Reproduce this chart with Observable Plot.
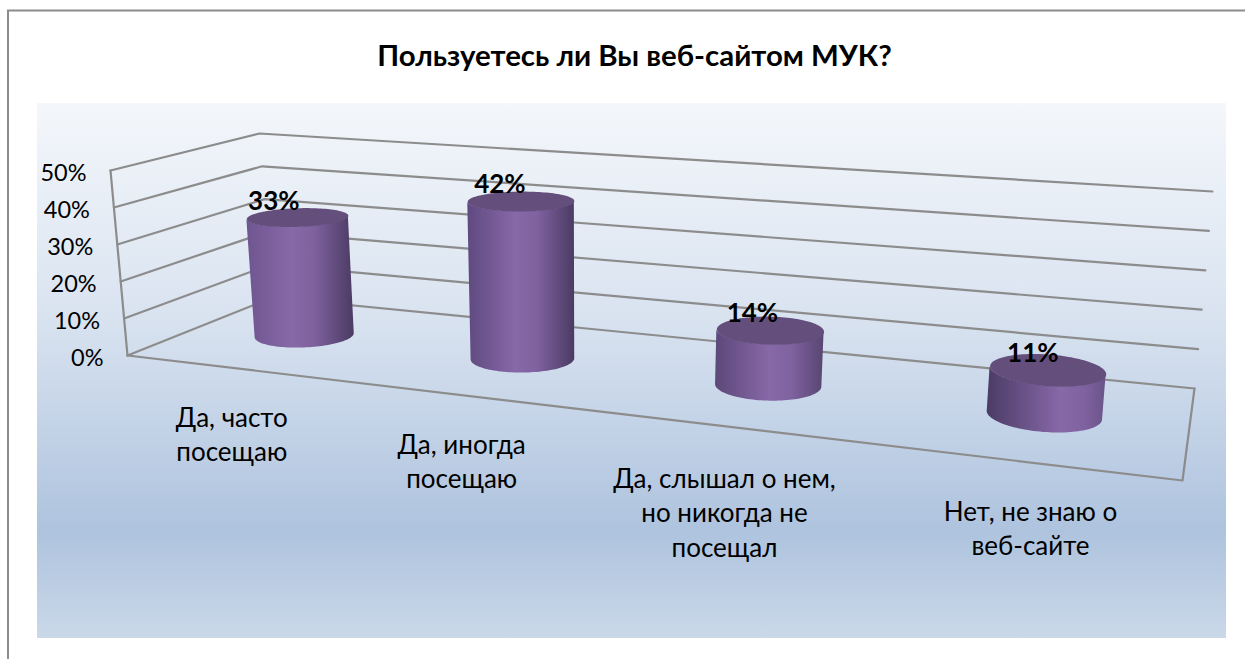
<!DOCTYPE html>
<html><head><meta charset="utf-8">
<style>html,body{margin:0;padding:0;background:#fff}svg{display:block}</style>
<script src="https://cdn.jsdelivr.net/npm/d3@7"></script>
<script src="https://cdn.jsdelivr.net/npm/@observablehq/plot@0.6"></script>
</head><body><div id="chart"></div>
<script>
const title = "Пользуетесь ли Вы веб-сайтом МУК?";
const categories = ["Да, часто\nпосещаю", "Да, иногда\nпосещаю", "Да, слышал о нем,\nно никогда не\nпосещал", "Нет, не знаю о\nвеб-сайте"];
const values = [33, 42, 14, 11];
const valueTicks = [0, 10, 20, 30, 40, 50];

// 3D box as seen on the page: floor corners [front-left, front-right, back-right, back-left]
const floorQuad = [[127,355],[1182,480],[1194,388],[272,297]];
// screen offset of the top of the box (value = max) above each floor corner
const riseQuad = [[-17,-185],[20,-222],[18,-197],[-13,-164]];
const maxValue = 50, nCat = categories.length;
function homography(q){
  const [[x0,y0],[x1,y1],[x2,y2],[x3,y3]] = q;
  const dx1=x1-x2, dx2=x3-x2, sx=x0-x1+x2-x3, dy1=y1-y2, dy2=y3-y2, sy=y0-y1+y2-y3;
  const den=dx1*dy2-dx2*dy1, g=(sx*dy2-dx2*sy)/den, h=(dx1*sy-sx*dy1)/den;
  const a=x1-x0+g*x1, b=x3-x0+h*x3, d=y1-y0+g*y1, e=y3-y0+h*y3;
  return (s,t)=>{const w=g*s+h*t+1; return [(a*s+b*t+x0)/w,(d*s+e*t+y0)/w];};
}
const hFloor = homography(floorQuad);
const bil = (s,t,k) => {
  const [fl,fr,br,bl]=riseQuad;
  const f=fl[k]+(fr[k]-fl[k])*s, b=bl[k]+(br[k]-bl[k])*s;
  return f+(b-f)*t;
};
// u: category axis 0..n, depth: 0 front .. 1 back, v: value
function project(u, depth, v){
  const s=u/nCat, p=hFloor(s,depth), k=v/maxValue;
  return [p[0]+bil(s,depth,0)*k, p[1]+bil(s,depth,1)*k];
}
const segments = [];
const addSeg = (id, pts) => pts.forEach(p => { const [x,y]=project(...p); segments.push({id,x,y}); });
valueTicks.forEach(v => addSeg("g"+v, [[0,0,v],[0,1,v],[nCat,1,v]]));
addSeg("floor", [[nCat,1,0],[nCat,0,0],[0,0,0]]);
addSeg("axis", [[0,0,0],[0,0,maxValue]]);

const radiusD = 0.19, steps = 120;
const radiusU = [0.207, 0.207, 0.198, 0.196];   // cylinder half-width along the category axis
const centerU = [0.5, 0.505, 0.515, 0.52];      // cylinder centre within its category slot
function ring(i, v){
  return d3.range(steps).map(j=>{
    const t=j/steps*2*Math.PI;
    const [x,y]=project(i+centerU[i]+radiusU[i]*Math.cos(t),0.5+radiusD*Math.sin(t),v);
    return {t,x,y};
  });
}
function bodyOf(i, v){
  const lo=ring(i,0), hi=ring(i,v);
  let a=d3.minIndex(lo,d=>d.x), b=d3.maxIndex(lo,d=>d.x);
  const forward=[]; for(let j=a;;j=(j+1)%steps){forward.push(j); if(j===b)break;}
  const backward=[]; for(let j=a;;j=(j-1+steps)%steps){backward.push(j); if(j===b)break;}
  const path=d3.mean(forward,j=>lo[j].y)>d3.mean(backward,j=>lo[j].y)?forward:backward;
  return path.map(j=>({x1:hi[j].x,y1:hi[j].y,x2:lo[j].x,y2:lo[j].y}));
}
const highlight=[0.42,0.45,0.5,0.62], edgeL=["#6f5690","#5f4a80","#5c4879","#4b3b65"], edgeR=["#4b3b63","#4b3b63","#584672","#6a5389"];
const defs = () => {
  const g=document.createElementNS("http://www.w3.org/2000/svg","g");
  g.innerHTML=`<defs>
  <linearGradient id="panel" x1="0" y1="0" x2="0" y2="1">
    <stop offset="0" stop-color="#f4f7fb"/><stop offset="0.4" stop-color="#d9e3f0"/>
    <stop offset="0.8" stop-color="#aec3de"/><stop offset="1" stop-color="#cad8e9"/>
  </linearGradient>
  ${highlight.map((h,i)=>`<linearGradient id="cyl${i}" x1="0" y1="0" x2="1" y2="0">
    <stop offset="0" stop-color="${edgeL[i]}"/><stop offset="${h}" stop-color="#8768a8"/>
    <stop offset="${Math.min(h+0.2,0.92)}" stop-color="#7f62a0"/><stop offset="1" stop-color="${edgeR[i]}"/>
  </linearGradient>`).join("")}
  </defs>`;
  return g;
};
const font = "Lato, 'Noto Sans', sans-serif";
const cylMarks = values.flatMap((v,i)=>[
  Plot.area(bodyOf(i,v),{x1:"x1",y1:"y1",x2:"x2",y2:"y2",fill:`url(#cyl${i})`}),
  Plot.line(ring(i,v).concat(ring(i,v)[0]),{x:"x",y:"y",fill:"#644e7c",stroke:"none"})
]);
const catNudge = [[-1,-6],[-1,-6],[2,-3],[12,-5]];
const valNudge = [-24,-20,-14,-9];
const tickData = valueTicks.map(v=>{const [x,y]=project(0,0,v); return {x,y,label:v+"%"};});
const catData = categories.map((label,i)=>{const [x,y]=project(i+0.5,0,0); return {x:x+catNudge[i][0],y:y+catNudge[i][1],label};});
const valData = values.map((v,i)=>{const [x,y]=project(i+0.5,0.5,v); return {x:x+valNudge[i],y,label:v+"%"};});

const chart = Plot.plot({
  width:1245,height:659,margin:0,
  x:{domain:[0,1245],range:[0,1245],axis:null},
  y:{domain:[0,659],range:[0,659],axis:null},
  style:{background:"#fff",fontFamily:font},
  marks:[
    defs,
    Plot.rect([{}],{x1:()=>37,x2:()=>1226,y1:()=>103,y2:()=>638,fill:"url(#panel)"}),
    Plot.ruleY([10],{x1:7,x2:1245,stroke:"#8c8c8c",strokeWidth:2}),
    Plot.ruleX([7.5],{y1:10,y2:659,stroke:"#8c8c8c",strokeWidth:2}),
    Plot.line(segments,{x:"x",y:"y",z:"id",stroke:"#8c8c8c",strokeWidth:2.2}),
    ...cylMarks,
    Plot.text(tickData,{x:"x",y:"y",text:"label",textAnchor:"end",dx:-24,dy:3,fontSize:23.5,fill:"#000"}),
    Plot.text(catData,{x:"x",y:"y",text:"label",textAnchor:"middle",lineAnchor:"top",dy:40,fontSize:26,fill:"#000",lineHeight:1.33}),
    Plot.text(valData,{x:"x",y:"y",text:"label",textAnchor:"middle",dy:-16,fontSize:26,fontWeight:700,fill:"#000"}),
    Plot.text([title],{x:()=>634,y:()=>56,text:d=>d,textAnchor:"middle",fontSize:29.4,fontWeight:700,fill:"#000"})
  ]
});
document.getElementById("chart").append(chart);
</script></body></html>
